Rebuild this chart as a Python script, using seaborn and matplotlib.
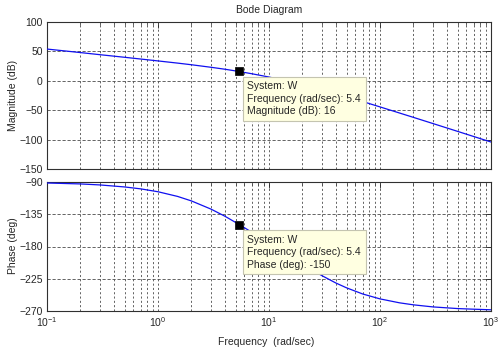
import matplotlib
matplotlib.use("Agg")
import matplotlib.pyplot as plt
import numpy as np
import pandas as pd
import seaborn as sns
from matplotlib.ticker import LogLocator, FixedLocator, NullFormatter

# ---- data ----
freq = [0.1, 0.2, 0.3, 0.5, 0.7, 1, 1.5, 2, 3, 4, 5.4, 7, 10, 15, 20, 30, 40,
        50, 70, 100, 150, 200, 300, 500, 700, 1000]
magnitude_db = [54.0, 48.0, 44.4, 40.0, 37.0, 33.8, 30.1, 27.3, 23.0, 19.7, 15.8,
                12.0, 6.4, -0.9, -6.5, -15.1, -21.7, -27.0, -35.3, -44.4, -54.8,
                -62.2, -72.7, -86.0, -94.8, -104.1]
phase_deg = [-91.4, -92.7, -94.1, -96.9, -99.6, -103.6, -110.1, -116.4, -127.8,
             -137.7, -149.4, -160.1, -175.2, -192.5, -204.6, -220.7, -230.9,
             -237.7, -246.3, -253.1, -258.6, -261.4, -264.3, -266.6, -267.5, -268.3]
tip_freq = [5.4]
tip_mag = [16]
tip_phase = [-150]
system_name = "W"
mag_ticks = [100, 50, 0, -50, -100, -150]
phase_ticks = [-90, -135, -180, -225, -270]
freq_limits = [0.1, 1000]
title = "Bode Diagram"
mag_label = "Magnitude (dB)"
phase_label = "Phase (deg)"
freq_label = "Frequency  (rad/sec)"

sns.set_theme(style="white")
plt.rcParams['font.family'] = ['Liberation Sans', 'DejaVu Sans']
plt.rcParams['mathtext.default'] = 'regular'
plt.rcParams['lines.scale_dashes'] = False

W, H = 504, 349
fig = plt.figure(figsize=(W / 100, H / 100), dpi=100)
fig.patch.set_facecolor('white')
ax1 = fig.add_axes([47 / W, 1 - 169 / H, 444 / W, 147 / H])
ax2 = fig.add_axes([47 / W, 1 - 311 / H, 444 / W, 129 / H])

df = pd.DataFrame({"freq": freq, "mag": magnitude_db, "phase": phase_deg})
tips = pd.DataFrame({"freq": tip_freq, "mag": tip_mag, "phase": tip_phase})

txt_col = '#262626'
for ax, col, ticks in ((ax1, "mag", mag_ticks), (ax2, "phase", phase_ticks)):
    ax.set_xscale('log')
    sns.lineplot(data=df, x="freq", y=col, ax=ax, color='#1010f0', lw=0.9,
                 sort=True, zorder=3)
    sns.scatterplot(data=tips, x="freq", y=col, ax=ax, marker='s', s=38,
                    color='black', edgecolor='black', zorder=5)
    ax.set_xlim(*freq_limits)
    ax.set_ylim(min(ticks), max(ticks))
    ax.yaxis.set_major_locator(FixedLocator(ticks))
    ax.xaxis.set_major_locator(LogLocator(base=10, numticks=10))
    ax.xaxis.set_minor_locator(LogLocator(base=10, subs=np.arange(2, 10), numticks=20))
    ax.xaxis.set_minor_formatter(NullFormatter())
    ax.grid(True, which='both', axis='x', color='#4a4a4a', lw=0.6, ls=(0, (1.5, 1.6)))
    ax.grid(True, which='major', axis='y', color='#4a4a4a', lw=0.6, ls=(0, (2.3, 1.3)))
    ax.set_axisbelow(True)
    ax.tick_params(axis='both', which='both', direction='in', top=True, right=True,
                   labelsize=7.5, colors=txt_col, pad=3)
    ax.tick_params(which='major', length=4, width=0.6)
    ax.tick_params(which='minor', length=2, width=0.5)
    for s in ax.spines.values():
        s.set_visible(True)
        s.set_color('#303030')
        s.set_linewidth(0.8)
    ax.set_xlabel("")
    ax.set_ylabel("")

ax1.tick_params(labelbottom=False)

box = dict(boxstyle='square,pad=0.45', fc='#ffffe1', ec='#c4c4b0', lw=0.8)
ax1.annotate(f"System: {system_name}\nFrequency (rad/sec): {tip_freq[0]}\nMagnitude (dB): {tip_mag[0]}",
             xy=(tip_freq[0], tip_mag[0]), xytext=(8, -10), textcoords='offset pixels',
             ha='left', va='top', fontsize=7.5, linespacing=1.3, bbox=box, zorder=6,
             color=txt_col)
ax2.annotate(f"System: {system_name}\nFrequency (rad/sec): {tip_freq[0]}\nPhase (deg): {tip_phase[0]}",
             xy=(tip_freq[0], tip_phase[0]), xytext=(8, -10), textcoords='offset pixels',
             ha='left', va='top', fontsize=7.5, linespacing=1.3, bbox=box, zorder=6,
             color=txt_col)

fig.text(269 / W, 1 - 10 / H, title, ha='center', va='center', fontsize=7.5, color=txt_col)
fig.text(13 / W, 1 - 95 / H, mag_label, rotation=90, ha='center', va='center',
         fontsize=7.5, color=txt_col)
fig.text(13 / W, 1 - 246 / H, phase_label, rotation=90, ha='center', va='center',
         fontsize=7.5, color=txt_col)
fig.text(266 / W, 1 - 342 / H, freq_label, ha='center', va='center', fontsize=7.5,
         color=txt_col)

fig.savefig("out.png", dpi=100, facecolor='white')
